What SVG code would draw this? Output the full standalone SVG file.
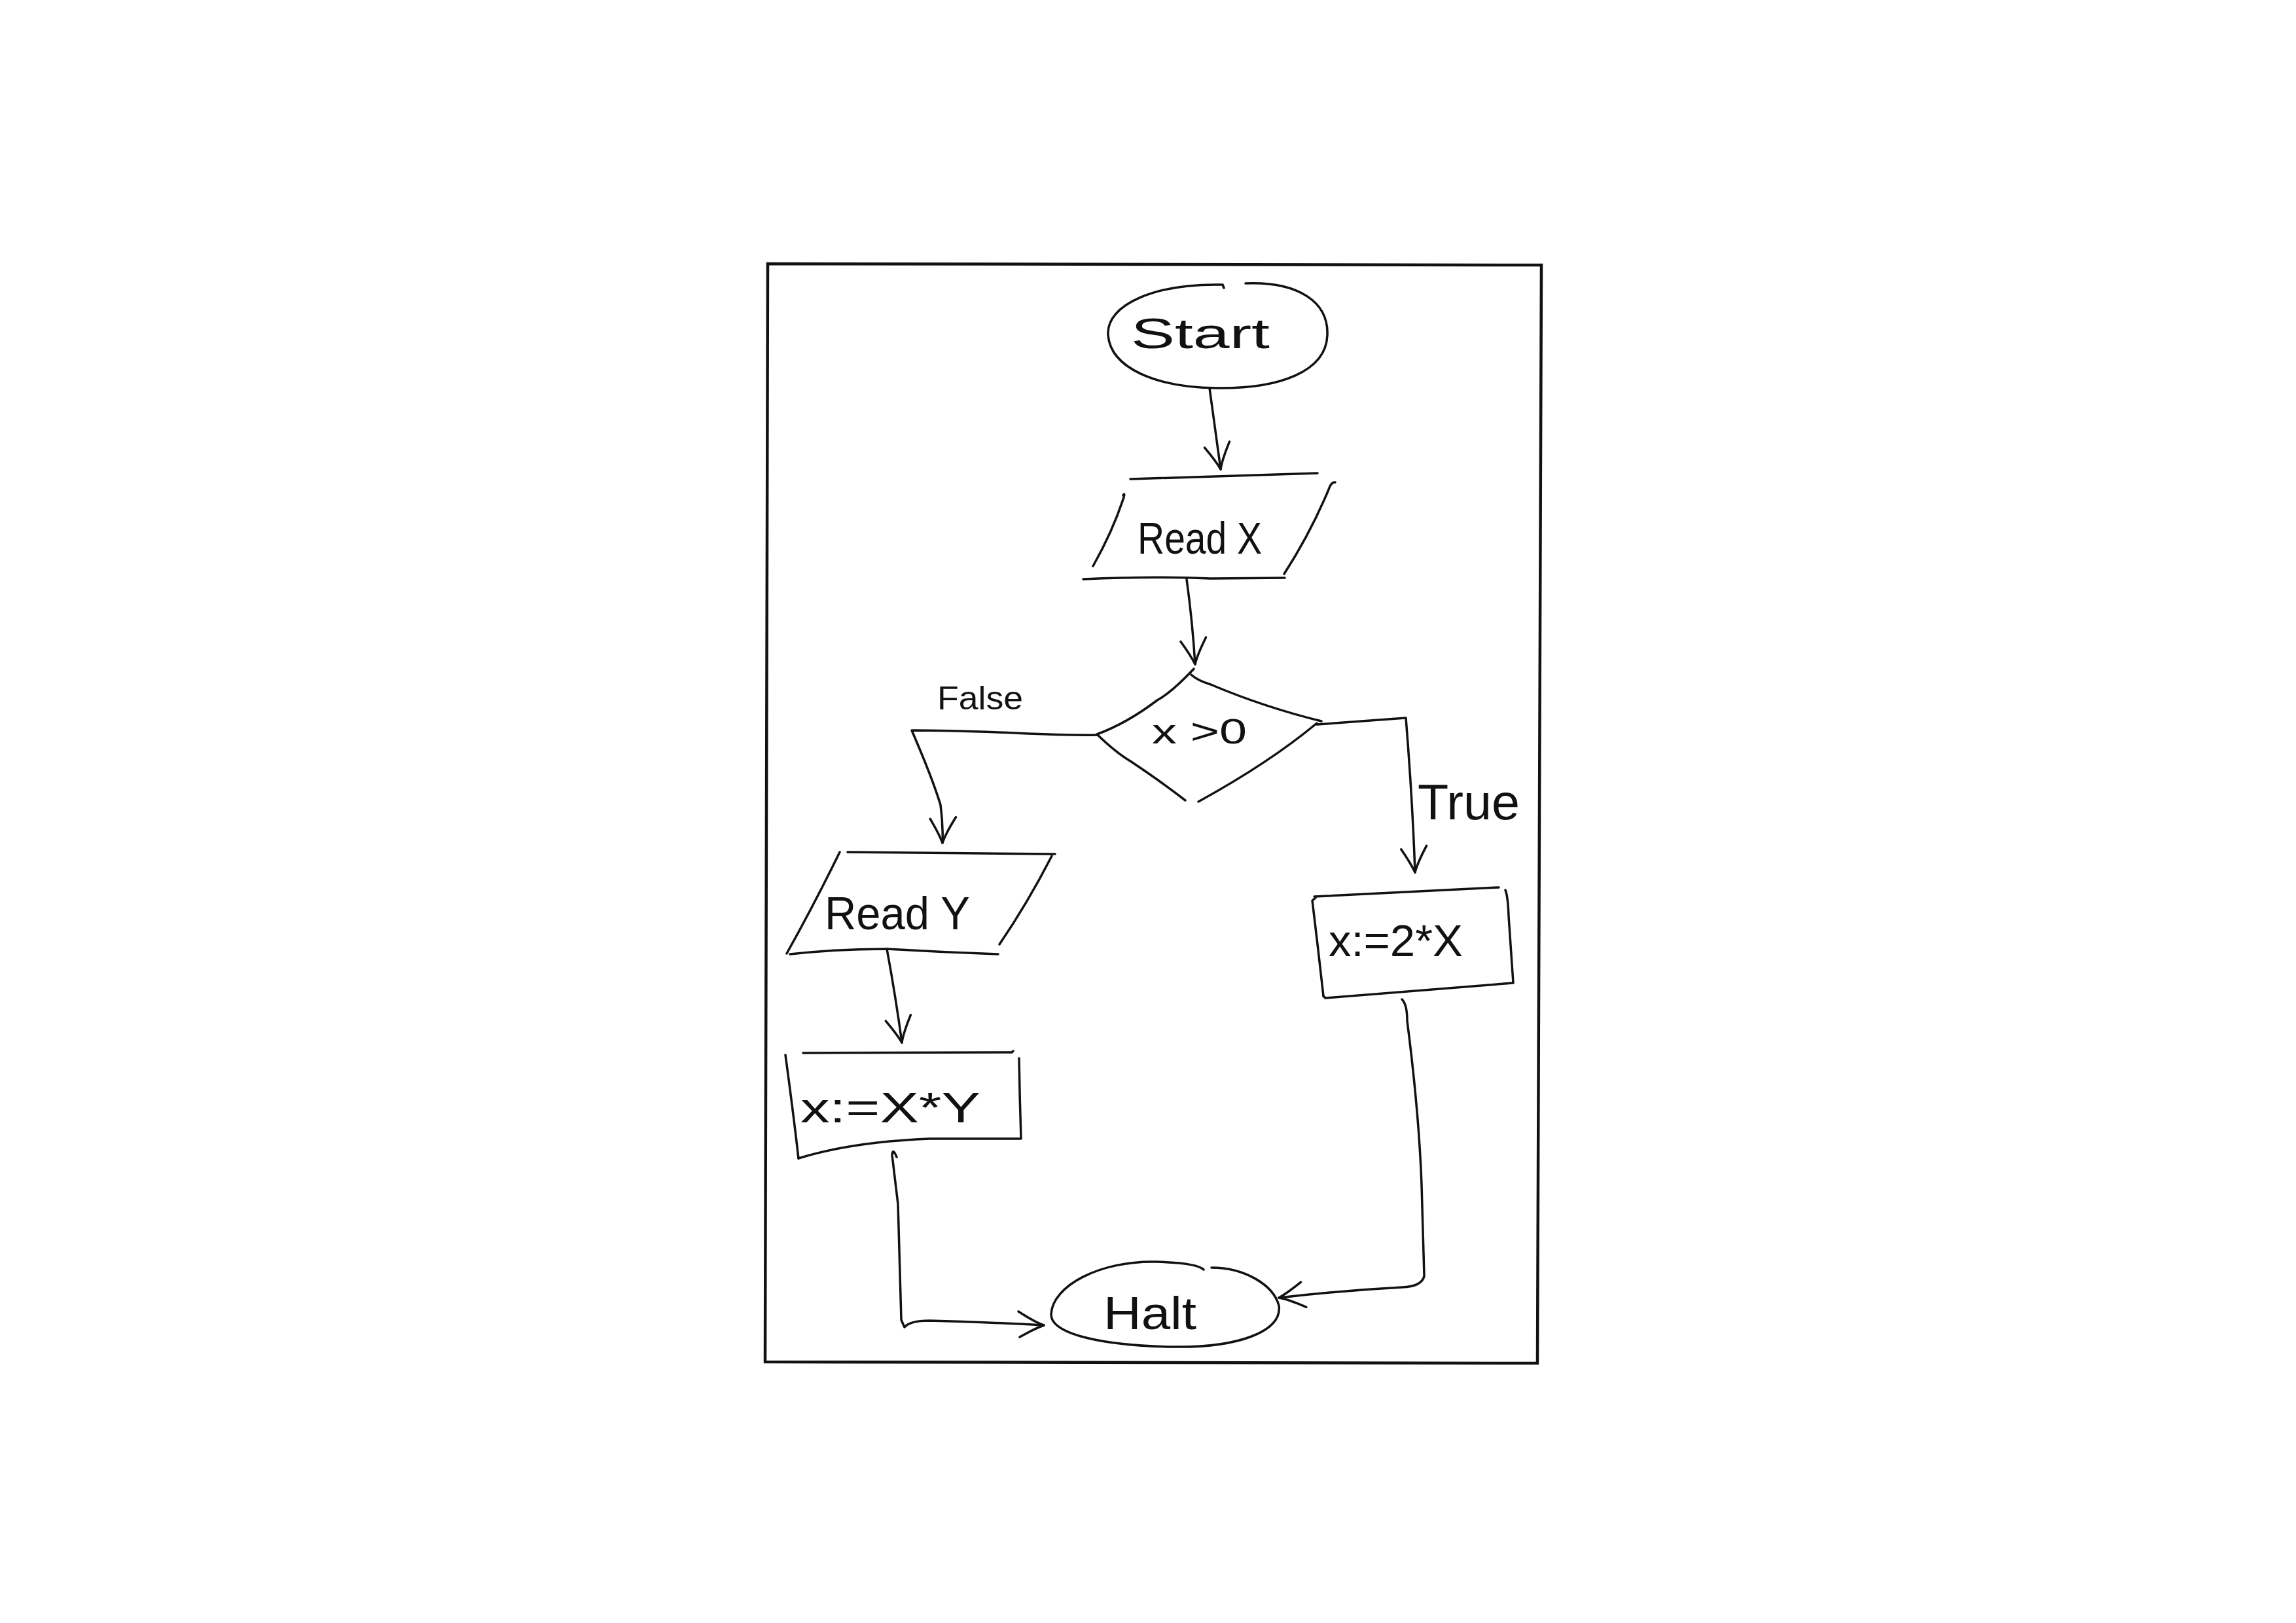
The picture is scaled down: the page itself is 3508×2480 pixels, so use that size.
<svg xmlns="http://www.w3.org/2000/svg" width="3508" height="2480" viewBox="0 0 3508 2480">
  <style>
    .ink { fill: none; stroke: #111; stroke-width: 3.5; stroke-linecap: round; stroke-linejoin: round; }
    .frame { fill: none; stroke: #111; stroke-width: 4.5; }
    .lbl { font-family: "Liberation Sans", Arial, sans-serif; fill: #111; }
  </style>
  <defs>
    <marker id="head" markerUnits="userSpaceOnUse" viewBox="-50 -25 60 50" refX="0" refY="0" markerWidth="60" markerHeight="50" orient="auto">
      <path d="M -40 -19 Q -14 -4 0 0 Q -14 6 -36 20" fill="none" stroke="#111" stroke-width="3.5" stroke-linecap="round" stroke-linejoin="round"/>
    </marker>
  </defs>

  <rect width="3508" height="2480" fill="#ffffff"/>

  <!-- page frame -->
  <path class="frame" d="M 1173 403 L 2355 405 L 2349 2083 L 1169 2081 Z"/>

  <!-- terminal: Start -->
  <g id="start">
    <path class="ink" d="M 1903 433 C 1985 430, 2030 462, 2028 512 C 2026 568, 1955 594, 1860 593 C 1765 592, 1697 562, 1693 512 C 1690 465, 1765 433, 1868 435 L 1870 440"/>
    <text class="lbl" x="1728" y="532" font-size="64" textLength="212" lengthAdjust="spacingAndGlyphs">Start</text>
  </g>

  <!-- input: Read X -->
  <g id="read-x">
    <path class="ink" d="M 1727 732 L 2013 723"/>
    <path class="ink" d="M 1716 757 Q 1719 752 1717 760 Q 1700 812 1670 865"/>
    <path class="ink" d="M 2040 737 Q 2034 736 2030 748 Q 2002 815 1962 877"/>
    <path class="ink" d="M 1655 885 Q 1760 880 1850 884 L 1963 883"/>
    <text class="lbl" x="1738" y="846" font-size="68" textLength="190" lengthAdjust="spacingAndGlyphs">Read X</text>
  </g>

  <!-- decision: x > 0 -->
  <g id="decision">
    <path class="ink" d="M 1824 1022 Q 1790 1058 1768 1070 Q 1722 1105 1676 1122 Q 1705 1150 1727 1163 Q 1775 1195 1811 1223"/>
    <path class="ink" d="M 1820 1031 Q 1830 1040 1850 1046 Q 1930 1080 2019 1102"/>
    <path class="ink" d="M 2012 1105 Q 1940 1165 1831 1225"/>
    <text class="lbl" x="1760" y="1136" font-size="54" textLength="145" lengthAdjust="spacingAndGlyphs">x &gt;0</text>
  </g>

  <!-- input: Read Y -->
  <g id="read-y">
    <path class="ink" d="M 1295 1302 L 1612 1305"/>
    <path class="ink" d="M 1283 1302 Q 1245 1380 1202 1457"/>
    <path class="ink" d="M 1607 1308 Q 1570 1380 1527 1443"/>
    <path class="ink" d="M 1207 1458 Q 1280 1450 1355 1450 Q 1440 1455 1525 1458"/>
    <text class="lbl" x="1260" y="1420" font-size="70" textLength="222" lengthAdjust="spacingAndGlyphs">Read Y</text>
  </g>

  <!-- process: x := X * Y -->
  <g id="assign-xy">
    <path class="ink" d="M 1227 1609 L 1546 1608 L 1548 1606"/>
    <path class="ink" d="M 1200 1612 Q 1212 1700 1220 1770"/>
    <path class="ink" d="M 1220 1770 Q 1300 1745 1420 1740 L 1560 1740 Q 1558 1680 1557 1617"/>
    <text class="lbl" x="1223" y="1715" font-size="64" textLength="275" lengthAdjust="spacingAndGlyphs">x:=X*Y</text>
  </g>

  <!-- process: x := 2 * X -->
  <g id="assign-2x">
    <path class="ink" d="M 2008 1370 L 2290 1356"/>
    <path class="ink" d="M 2300 1360 Q 2304 1370 2305 1400 L 2312 1502 L 2025 1525 L 2022 1522"/>
    <path class="ink" d="M 2010 1372 L 2005 1376 Q 2014 1450 2022 1522"/>
    <text class="lbl" x="2030" y="1461" font-size="68" textLength="205" lengthAdjust="spacingAndGlyphs">x:=2*X</text>
  </g>

  <!-- terminal: Halt -->
  <g id="halt">
    <path class="ink" d="M 1851 1937 C 1900 1937, 1945 1962, 1954 1995 C 1960 2035, 1890 2060, 1790 2058 C 1690 2056, 1605 2040, 1606 2008 C 1608 1965, 1680 1926, 1767 1928 C 1805 1929, 1832 1933, 1839 1940"/>
    <text class="lbl" x="1686" y="2031" font-size="70" textLength="142" lengthAdjust="spacingAndGlyphs">Halt</text>
  </g>

  <!-- connectors -->
  <g id="connectors">
    <path class="ink" marker-end="url(#head)" d="M 1848 593 Q 1856 650 1865 717"/>
    <path class="ink" marker-end="url(#head)" d="M 1813 885 Q 1822 950 1826 1015"/>
    <path class="ink" marker-end="url(#head)" d="M 1677 1123 C 1600 1125, 1520 1116, 1393 1116 Q 1425 1190 1437 1230 Q 1441 1260 1440 1288"/>
    <path class="ink" marker-end="url(#head)" d="M 2012 1107 Q 2080 1102 2148 1097 Q 2158 1220 2162 1333"/>
    <path class="ink" marker-end="url(#head)" d="M 1355 1450 Q 1368 1520 1378 1593"/>
    <path class="ink" marker-end="url(#head)" d="M 1370 1768 Q 1364 1753 1363 1765 L 1372 1840 L 1377 2017 L 1382 2028 Q 1390 2018 1420 2018 Q 1500 2020 1595 2025"/>
    <path class="ink" marker-end="url(#head)" d="M 2142 1527 Q 2150 1535 2150 1560 Q 2168 1700 2172 1810 L 2176 1950 Q 2172 1966 2142 1967 Q 2050 1972 1954 1983"/>
    <text class="lbl" x="1432" y="1084" font-size="50" textLength="131" lengthAdjust="spacingAndGlyphs">False</text>
    <text class="lbl" x="2166" y="1252" font-size="76" textLength="156" lengthAdjust="spacingAndGlyphs">True</text>
  </g>
</svg>
